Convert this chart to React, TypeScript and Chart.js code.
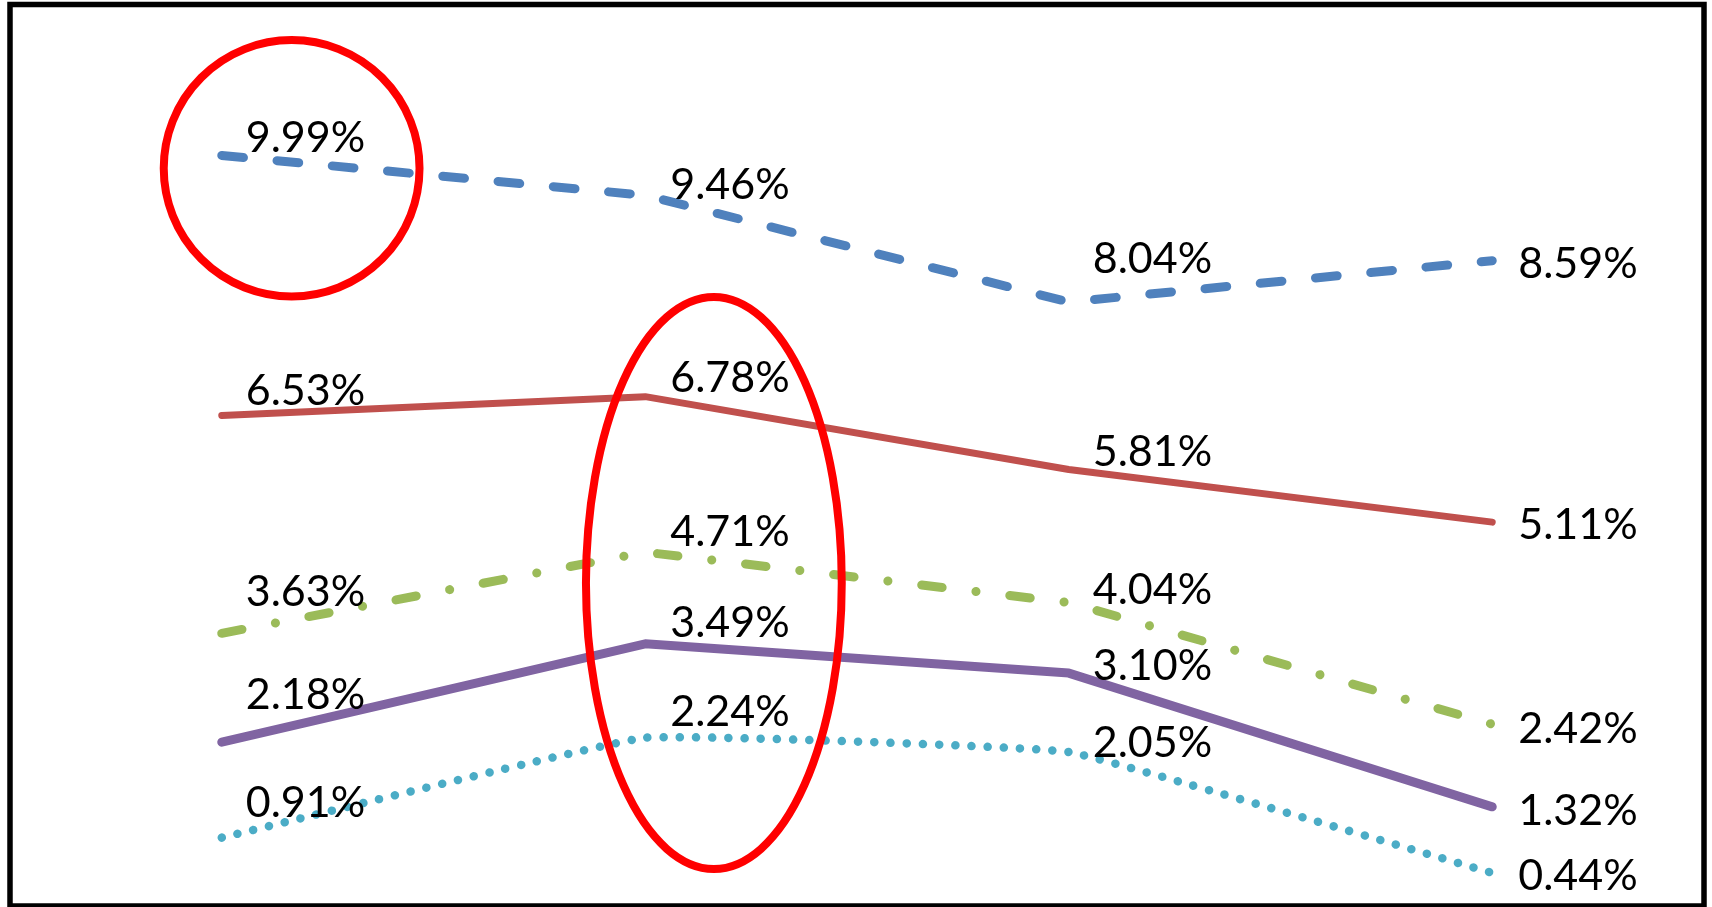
import React, { useEffect, useRef } from "react";
import { Chart, registerables } from "chart.js";

Chart.register(...registerables);

// ---- data ----
const categories = ["1", "2", "3", "4"];
const seriesNames = ["Series A", "Series B", "Series C", "Series D", "Series E"];
const blueValues = [9.99, 9.46, 8.04, 8.59];
const redValues = [6.53, 6.78, 5.81, 5.11];
const greenValues = [3.63, 4.71, 4.04, 2.42];
const purpleValues = [2.18, 3.49, 3.1, 1.32];
const cyanValues = [0.91, 2.24, 2.05, 0.44];
const yMin = 0;
const yMax = 12;

// highlight ellipses, in data units (category index, value)
const highlightCenterX = [0.165, 1.162];
const highlightCenterY = [9.82, 4.3];
const highlightRadiusX = [0.302, 0.302];
const highlightRadiusY = [1.706, 3.807];

// ---- label placement (pixels relative to point) ----
const labelDx = [24, 25, 24, 26];
const labelDy = [
  [-4, 4, -29, 17],
  [-10, -5, -4, 17],
  [-27, -6, 2, 19],
  [-33, -7, 7, 18],
  [-21, -12, 5, 17],
];

const LABEL_FONT = "43px Lato, 'Noto Sans', sans-serif";

const overlayPlugin = {
  id: "overlay",
  afterDatasetsDraw(chart: any) {
    const { ctx, chartArea, scales } = chart;
    const xs = scales.x;
    const ys = scales.y;
    ctx.save();

    // ellipses
    ctx.strokeStyle = "#FF0000";
    ctx.lineWidth = 8;
    for (let k = 0; k < highlightCenterX.length; k++) {
      const cx = xs.getPixelForValue(highlightCenterX[k]);
      const cy = ys.getPixelForValue(highlightCenterY[k]);
      const rx = xs.getPixelForValue(highlightCenterX[k] + highlightRadiusX[k]) - cx;
      const ry = cy - ys.getPixelForValue(highlightCenterY[k] + highlightRadiusY[k]);
      ctx.beginPath();
      ctx.ellipse(cx, cy, rx, ry, 0, 0, Math.PI * 2);
      ctx.stroke();
    }

    // data labels
    ctx.font = LABEL_FONT;
    ctx.fillStyle = "#000000";
    ctx.textBaseline = "alphabetic";
    ctx.textAlign = "left";
    chart.data.datasets.forEach((ds: any, di: number) => {
      const meta = chart.getDatasetMeta(di);
      meta.data.forEach((pt: any, i: number) => {
        const v = ds.data[i] as number;
        ctx.fillText(v.toFixed(2) + "%", pt.x + labelDx[i], pt.y + labelDy[di][i]);
      });
    });

    // frame
    ctx.strokeStyle = "#000000";
    ctx.lineWidth = 5.5;
    ctx.strokeRect(chartArea.left, chartArea.top, chartArea.right - chartArea.left, chartArea.bottom - chartArea.top);
    ctx.restore();
  },
};

export default function App() {
  const canvasRef = useRef<HTMLCanvasElement | null>(null);

  useEffect(() => {
    if (!canvasRef.current) return;
    const common = {
      fill: false,
      pointRadius: 0,
      pointHoverRadius: 0,
      borderCapStyle: "round" as const,
      borderJoinStyle: "round" as const,
    };
    const chart = new Chart(canvasRef.current, {
      type: "line",
      data: {
        labels: categories,
        datasets: [
          {
            ...common,
            label: seriesNames[0],
            data: blueValues,
            borderColor: "#4F81BD",
            borderWidth: 9,
            borderDash: [21.8, 33.7],
            tension: 0,
          },
          {
            ...common,
            label: seriesNames[1],
            data: redValues,
            borderColor: "#C0504D",
            borderWidth: 7,
            tension: 0,
          },
          {
            ...common,
            label: seriesNames[2],
            data: greenValues,
            borderColor: "#9BBB59",
            borderWidth: 9,
            borderDash: [20.6, 34, 0.1, 34],
            tension: 0,
          },
          {
            ...common,
            label: seriesNames[3],
            data: purpleValues,
            borderColor: "#8064A2",
            borderWidth: 9,
            tension: 0,
          },
          {
            ...common,
            label: seriesNames[4],
            data: cyanValues,
            borderColor: "#4BACC6",
            borderWidth: 8.5,
            borderDash: [0.1, 16.1],
            tension: 0.08,
          },
        ],
      },
      options: {
        responsive: false,
        animation: false,
        layout: { padding: { left: 10, top: 4.5, right: 8, bottom: 1 } },
        plugins: {
          legend: { display: false },
          tooltip: { enabled: false },
          title: { display: false },
        },
        scales: {
          x: { type: "category", display: false, offset: true },
          y: { type: "linear", display: false, min: yMin, max: yMax },
        },
      },
      plugins: [overlayPlugin],
    });
    return () => chart.destroy();
  }, []);

  return (
    <canvas
      ref={canvasRef}
      width={1712}
      height={907}
      style={{ position: "fixed", left: 0, top: 0, width: 1712, height: 907, display: "block", background: "#FFFFFF" }}
    />
  );
}
